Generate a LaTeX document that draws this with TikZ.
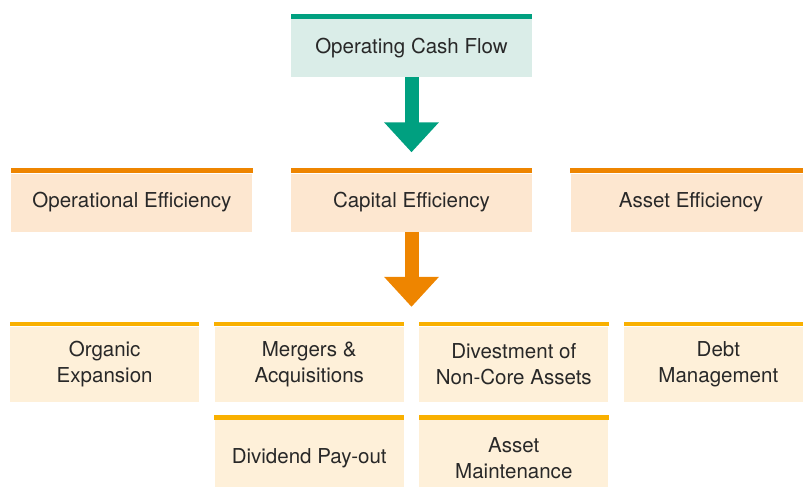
\documentclass[tikz,border=0pt]{standalone}
\usepackage{fontspec}
\setmainfont{TeX Gyre Heros}
\usepackage{tikz}
\usetikzlibrary{arrows.meta, positioning}

\definecolor{cashgreen}{RGB}{0,160,128}
\definecolor{cashfill}{RGB}{218,237,232}
\definecolor{effbar}{RGB}{238,133,0}
\definecolor{efffill}{RGB}{253,231,208}
\definecolor{usebar}{RGB}{249,176,0}
\definecolor{usefill}{RGB}{254,240,217}
\definecolor{labeltext}{RGB}{40,40,40}

\begin{document}
\begin{tikzpicture}[
    every node/.style={font=\fontsize{14.6}{18.5}\selectfont, text=labeltext},
    cashbox/.style={rectangle, fill=cashfill, inner sep=0pt, align=center, minimum width=6.025cm, minimum height=1.45cm},
    effbox/.style={rectangle, fill=efffill, inner sep=0pt, align=center, minimum width=6.025cm, minimum height=1.45cm},
    usebox/.style={rectangle, fill=usefill, inner sep=0pt, align=center, minimum width=4.725cm, minimum height=1.8875cm},
    fatarrow/.style={draw=#1, line width=0.35cm, -{Triangle[width=1.325cm, length=0.75cm]}, #1}
]
    \path[use as bounding box, clip] (0,0) rectangle (20.075,-12.15);

    % Source
    \node[cashbox] (cashflow) at (10.2875,-1.2) {Operating Cash Flow};

    % Efficiency row
    \node[effbox, below=2.4cm of cashflow] (capital) {Capital Efficiency};
    \node[effbox, left=0.95cm of capital] (operational) {Operational Efficiency};
    \node[effbox, right=0.95cm of capital] (asseteff) {Asset Efficiency};

    % Uses of cash
    \node[usebox, below=2.3625cm of capital.south, anchor=north east, xshift=-0.1875cm] (mergers) {Mergers \&\\Acquisitions};
    \node[usebox, right=0.375cm of mergers] (divest) {Divestment of\\Non-Core Assets};
    \node[usebox, left=0.375cm of mergers] (organic) {Organic\\Expansion};
    \node[usebox, right=0.375cm of divest] (debt) {Debt\\Management};
    \node[usebox, below=0.4375cm of mergers] (dividend) {Dividend Pay-out};
    \node[usebox, below=0.4375cm of divest] (maintain) {Asset\\Maintenance};

    % Top bars
    \foreach \n/\c/\h in {cashflow/cashgreen/0.125, operational/effbar/0.125, capital/effbar/0.125, asseteff/effbar/0.125,
        organic/usebar/0.1125, mergers/usebar/0.1125, divest/usebar/0.1125, debt/usebar/0.1125,
        dividend/usebar/0.1125, maintain/usebar/0.1125}
        \fill[\c] (\n.north west) rectangle ([yshift=\h cm]\n.north east);

    % Arrows
    \draw[fatarrow=cashgreen, shorten >=0.525cm] (cashflow.south) -- (capital.north);
    \draw[fatarrow=effbar, shorten >=0.4875cm] (capital.south) -- (capital.south |- mergers.north);
\end{tikzpicture}
\end{document}
